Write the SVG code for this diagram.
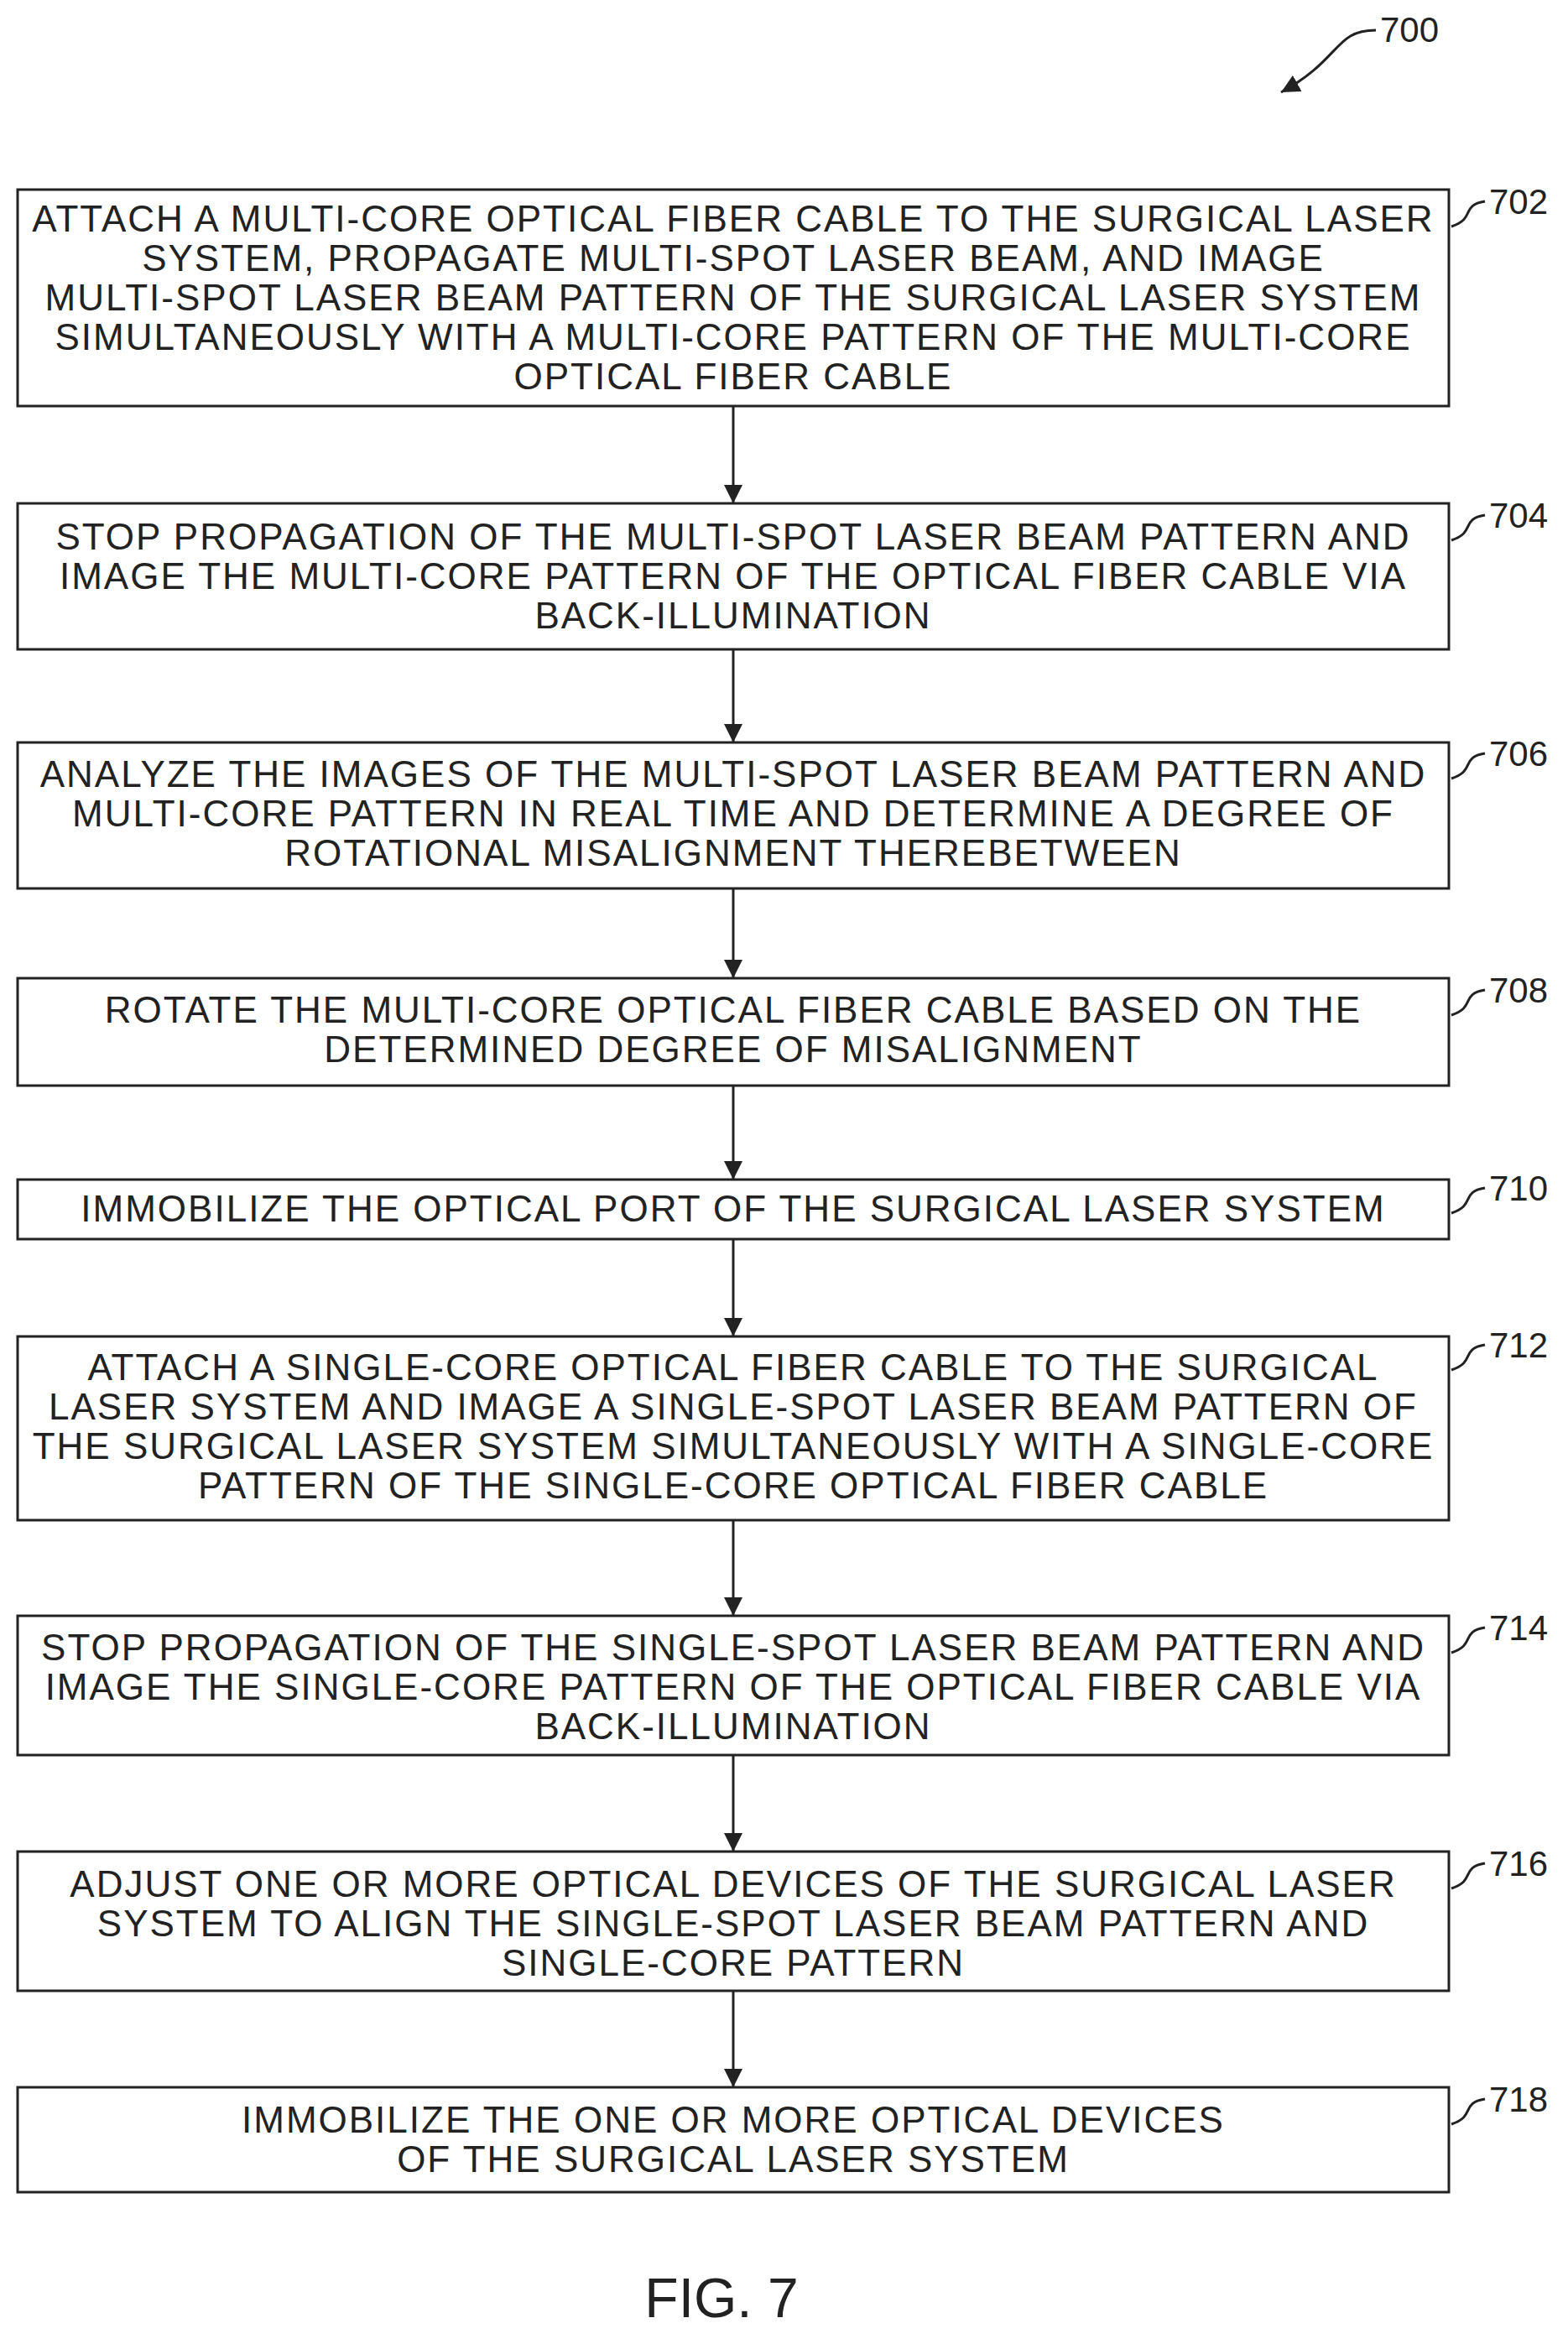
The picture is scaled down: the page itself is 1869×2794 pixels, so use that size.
<svg xmlns="http://www.w3.org/2000/svg" width="1869" height="2794" viewBox="0 0 1869 2794">
<style>
.b{fill:#fff;stroke:#222;stroke-width:3}
.t{font-family:"Liberation Sans",Arial,sans-serif;font-size:44px;letter-spacing:2px;fill:#222;text-anchor:middle}
.l{font-family:"Liberation Sans",Arial,sans-serif;font-size:42px;fill:#222}
.c{fill:none;stroke:#222;stroke-width:3}
</style>
<defs>
<marker id="ah" viewBox="0 0 10 10" refX="10" refY="5" markerWidth="22" markerHeight="22" orient="auto" markerUnits="userSpaceOnUse"><path d="M0,0L10,5L0,10z" fill="#222"/></marker></defs>
<g id="connectors" class="c">
<path d="M874,484V600" marker-end="url(#ah)"/>
<path d="M874,774V885" marker-end="url(#ah)"/>
<path d="M874,1059V1166" marker-end="url(#ah)"/>
<path d="M874,1294V1406" marker-end="url(#ah)"/>
<path d="M874,1477V1593" marker-end="url(#ah)"/>
<path d="M874,1812V1926" marker-end="url(#ah)"/>
<path d="M874,2092V2207" marker-end="url(#ah)"/>
<path d="M874,2373V2488" marker-end="url(#ah)"/>
<path d="M1640,36C1590,36 1600,70 1527,110" marker-end="url(#ah)"/>
<path d="M1730,270C1760,260 1740,245 1770,240"/>
<path d="M1730,644C1760,634 1740,619 1770,614"/>
<path d="M1730,928C1760,918 1740,903 1770,898"/>
<path d="M1730,1210C1760,1200 1740,1185 1770,1180"/>
<path d="M1730,1446C1760,1436 1740,1421 1770,1416"/>
<path d="M1730,1633C1760,1623 1740,1608 1770,1603"/>
<path d="M1730,1970C1760,1960 1740,1945 1770,1940"/>
<path d="M1730,2251C1760,2241 1740,2226 1770,2221"/>
<path d="M1730,2532C1760,2522 1740,2507 1770,2502"/>
</g>
<text class="l" x="1645" y="50">700</text>
<g id="n702"><rect class="b" x="21" y="226" width="1706" height="258"/>
<text class="t" x="874" y="276">ATTACH A MULTI-CORE OPTICAL FIBER CABLE TO THE SURGICAL LASER</text>
<text class="t" x="874" y="323">SYSTEM, PROPAGATE MULTI-SPOT LASER BEAM, AND IMAGE</text>
<text class="t" x="874" y="370">MULTI-SPOT LASER BEAM PATTERN OF THE SURGICAL LASER SYSTEM</text>
<text class="t" x="874" y="417">SIMULTANEOUSLY WITH A MULTI-CORE PATTERN OF THE MULTI-CORE</text>
<text class="t" x="874" y="464">OPTICAL FIBER CABLE</text>
<text class="l" x="1775" y="255">702</text></g>
<g id="n704"><rect class="b" x="21" y="600" width="1706" height="174"/>
<text class="t" x="874" y="655">STOP PROPAGATION OF THE MULTI-SPOT LASER BEAM PATTERN AND</text>
<text class="t" x="874" y="702">IMAGE THE MULTI-CORE PATTERN OF THE OPTICAL FIBER CABLE VIA</text>
<text class="t" x="874" y="749">BACK-ILLUMINATION</text>
<text class="l" x="1775" y="629">704</text></g>
<g id="n706"><rect class="b" x="21" y="885" width="1706" height="174"/>
<text class="t" x="874" y="938">ANALYZE THE IMAGES OF THE MULTI-SPOT LASER BEAM PATTERN AND</text>
<text class="t" x="874" y="985">MULTI-CORE PATTERN IN REAL TIME AND DETERMINE A DEGREE OF</text>
<text class="t" x="874" y="1032">ROTATIONAL MISALIGNMENT THEREBETWEEN</text>
<text class="l" x="1775" y="913">706</text></g>
<g id="n708"><rect class="b" x="21" y="1166" width="1706" height="128"/>
<text class="t" x="874" y="1219">ROTATE THE MULTI-CORE OPTICAL FIBER CABLE BASED ON THE</text>
<text class="t" x="874" y="1266">DETERMINED DEGREE OF MISALIGNMENT</text>
<text class="l" x="1775" y="1195">708</text></g>
<g id="n710"><rect class="b" x="21" y="1406" width="1706" height="71"/>
<text class="t" x="874" y="1456">IMMOBILIZE THE OPTICAL PORT OF THE SURGICAL LASER SYSTEM</text>
<text class="l" x="1775" y="1431">710</text></g>
<g id="n712"><rect class="b" x="21" y="1593" width="1706" height="219"/>
<text class="t" x="874" y="1645">ATTACH A SINGLE-CORE OPTICAL FIBER CABLE TO THE SURGICAL</text>
<text class="t" x="874" y="1692">LASER SYSTEM AND IMAGE A SINGLE-SPOT LASER BEAM PATTERN OF</text>
<text class="t" x="874" y="1739">THE SURGICAL LASER SYSTEM SIMULTANEOUSLY WITH A SINGLE-CORE</text>
<text class="t" x="874" y="1786">PATTERN OF THE SINGLE-CORE OPTICAL FIBER CABLE</text>
<text class="l" x="1775" y="1618">712</text></g>
<g id="n714"><rect class="b" x="21" y="1926" width="1706" height="166"/>
<text class="t" x="874" y="1979">STOP PROPAGATION OF THE SINGLE-SPOT LASER BEAM PATTERN AND</text>
<text class="t" x="874" y="2026">IMAGE THE SINGLE-CORE PATTERN OF THE OPTICAL FIBER CABLE VIA</text>
<text class="t" x="874" y="2073">BACK-ILLUMINATION</text>
<text class="l" x="1775" y="1955">714</text></g>
<g id="n716"><rect class="b" x="21" y="2207" width="1706" height="166"/>
<text class="t" x="874" y="2261">ADJUST ONE OR MORE OPTICAL DEVICES OF THE SURGICAL LASER</text>
<text class="t" x="874" y="2308">SYSTEM TO ALIGN THE SINGLE-SPOT LASER BEAM PATTERN AND</text>
<text class="t" x="874" y="2355">SINGLE-CORE PATTERN</text>
<text class="l" x="1775" y="2236">716</text></g>
<g id="n718"><rect class="b" x="21" y="2488" width="1706" height="125"/>
<text class="t" x="874" y="2542">IMMOBILIZE THE ONE OR MORE OPTICAL DEVICES</text>
<text class="t" x="874" y="2589">OF THE SURGICAL LASER SYSTEM</text>
<text class="l" x="1775" y="2517">718</text></g>
<text class="t" x="860" y="2762" style="font-size:66px;letter-spacing:0">FIG. 7</text>
</svg>
